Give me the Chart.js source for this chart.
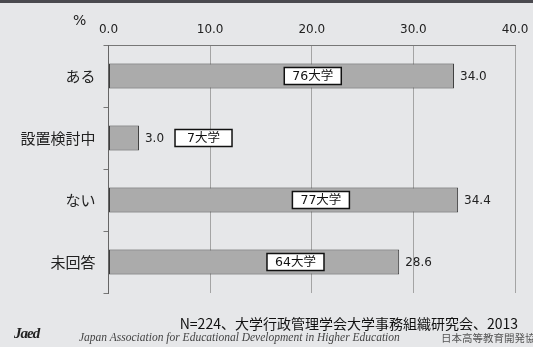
<!DOCTYPE html>
<html lang="ja">
<head>
<meta charset="utf-8">
<script src="https://cdn.jsdelivr.net/npm/chart.js@4.4.1/dist/chart.umd.min.js"></script>
<style>
  html, body { margin: 0; padding: 0; }
  body { width: 533px; height: 347px; overflow: hidden; position: relative;
         background: #e6e7e9; font-family: "Noto Sans CJK JP", sans-serif; }
  #band { position: absolute; left: 0; top: 0; width: 533px; height: 3px; background: #4a4a4f; }
  #wrap { position: absolute; left: 0; top: 0; width: 533px; height: 347px; }
  .t { position: absolute; white-space: nowrap; }
  #pct { left: 73px; top: 12px; font: 14px "DejaVu Sans", sans-serif; color: #222; }
  #src { right: 15px; top: 313px; font: 14px "Noto Sans CJK JP", sans-serif; color: #111; }
  #eng { left: 79px; top: 331px; font: italic 11.5px "Liberation Serif", serif; color: #444; }
  #jp  { left: 441px; top: 330px; font: 10.5px "Noto Sans CJK JP", sans-serif; color: #555; }
  #logo { left: 14px; top: 325px; font: italic bold 15px "Liberation Serif", serif; color: #222; letter-spacing: -1px; }
</style>
</head>
<body>
<div id="band"></div>
<div id="wrap"><canvas id="c" width="533" height="347"></canvas></div>
<div class="t" id="pct">%</div>
<div class="t" id="src">N=224、大学行政管理学会大学事務組織研究会、2013</div>
<div class="t" id="logo">Jaed</div>
<div class="t" id="eng">Japan Association for Educational Development in Higher Education</div>
<div class="t" id="jp">日本高等教育開発協会</div>
<script>
// ---- data ----
const categories = ["ある", "設置検討中", "ない", "未回答"];
const percentValues = [34.0, 3.0, 34.4, 28.6];
const universityCounts = [76, 7, 77, 64];
const tickValues = [0, 10, 20, 30, 40];

// ---- layout of count boxes (in axis units, not data) ----
const boxCentersAxis = [20.1, 9.35, 20.9, 18.4];

const labelPlugin = {
  id: 'labels',
  afterDatasetsDraw(chart) {
    const ctx = chart.ctx;
    const meta = chart.getDatasetMeta(0);
    const xs = chart.scales.x;
    ctx.save();
    meta.data.forEach((bar, i) => {
      ctx.font = '12px "DejaVu Sans", sans-serif';
      ctx.fillStyle = '#222';
      ctx.textAlign = 'left';
      ctx.textBaseline = 'middle';
      ctx.fillText(percentValues[i].toFixed(1), bar.x + 6, bar.y + 1);
      const cx = xs.getPixelForValue(boxCentersAxis[i]);
      const w = 57, h = 17;
      ctx.fillStyle = '#ffffff';
      ctx.fillRect(cx - w / 2, bar.y - h / 2, w, h);
      ctx.lineWidth = 1.5;
      ctx.strokeStyle = '#111';
      ctx.strokeRect(cx - w / 2, bar.y - h / 2, w, h);
      ctx.fillStyle = '#111';
      ctx.textAlign = 'center';
      ctx.font = '12.5px "DejaVu Sans", "Noto Sans CJK JP", sans-serif';
      ctx.fillText(universityCounts[i] + '大学', cx, bar.y + 1);
    });
    ctx.restore();
  }
};

new Chart(document.getElementById('c'), {
  type: 'bar',
  data: {
    labels: categories,
    datasets: [{
      data: percentValues,
      backgroundColor: '#ababab',
      borderColor: '#3f3f3f',
      borderWidth: 1,
      borderSkipped: false,
      barPercentage: 0.403,
      categoryPercentage: 1
    }]
  },
  options: {
    indexAxis: 'y',
    responsive: false,
    animation: false,
    events: [],
    layout: { padding: { left: 0, right: 18, top: 0, bottom: 54 } },
    plugins: { legend: { display: false }, tooltip: { enabled: false } },
    scales: {
      x: {
        position: 'top',
        min: 0, max: 40,
        afterBuildTicks: s => { s.ticks = tickValues.map(v => ({ value: v })); },
        afterFit: s => { s.height = 45; s.paddingLeft = 0; s.paddingRight = 0; },
        ticks: {
          font: { family: '"DejaVu Sans", sans-serif', size: 12 },
          color: '#222',
          padding: 8,
          callback: v => Number(v).toFixed(1)
        },
        grid: {
          drawTicks: false,
          color: ctx => (ctx.tick && ctx.tick.value === 0) ? '#666' : '#a4a4a4',
          lineWidth: 1
        },
        border: { display: true, color: '#777', width: 1 }
      },
      y: {
        afterFit: s => { s.width = 108.5; s.paddingTop = 0; s.paddingBottom = 0; },
        ticks: {
          font: { family: '"Noto Sans CJK JP", sans-serif', size: 15 },
          color: '#222',
          padding: 8
        },
        grid: {
          drawOnChartArea: false,
          drawTicks: true,
          tickLength: 5,
          color: '#777'
        },
        border: { display: true, color: '#666', width: 1 }
      }
    }
  },
  plugins: [labelPlugin]
});
</script>
</body>
</html>
